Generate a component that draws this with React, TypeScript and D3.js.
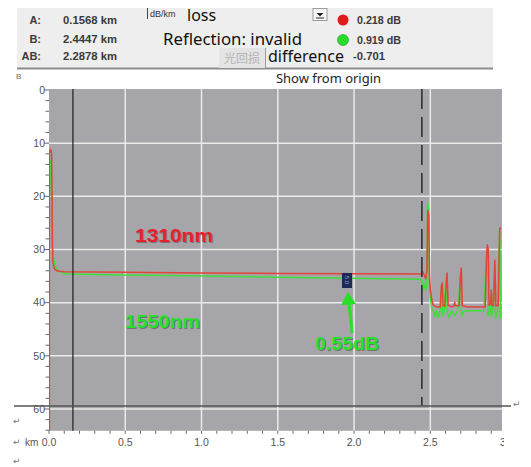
import React from "react";
import * as d3 from "d3";

// ---------- data ----------
const xTicks = [0, 0.5, 1.0, 1.5, 2.0, 2.5];
const xTickLabels = ["0.0", "0.5", "1.0", "1.5", "2.0", "2.5"];
const yTicks = [0, 10, 20, 30, 40, 50, 60];

const red1310Km = [0, 0.001, 0.012, 0.017, 0.02, 0.022, 0.026, 0.035, 0.05, 0.07, 0.1, 0.5, 1.0, 1.5, 2.0, 2.43, 2.44, 2.45, 2.46, 2.47, 2.478, 2.483, 2.49, 2.495, 2.5, 2.51, 2.52, 2.54, 2.565, 2.572, 2.578, 2.584, 2.595, 2.602, 2.61, 2.617, 2.64, 2.655, 2.66, 2.665, 2.69, 2.697, 2.703, 2.71, 2.75, 2.86, 2.868, 2.873, 2.88, 2.885, 2.895, 2.9, 2.905, 2.915, 2.923, 2.93, 2.945, 2.955, 2.965];
const red1310Db = [64.5, 11.5, 11.2, 12, 20, 29, 32.5, 33.6, 34.0, 34.1, 34.2, 34.3, 34.4, 34.5, 34.55, 34.6, 34.5, 34.2, 34.8, 35.5, 34.0, 22.6, 23.5, 35, 37.5, 39.5, 40.5, 40.8, 40.8, 37, 36.3, 40.5, 40.7, 37.5, 34.4, 40.5, 40.8, 40.6, 39.9, 40.6, 40.6, 35, 33.5, 40.6, 40.8, 40.8, 32, 29.1, 30, 40.5, 40.2, 37.6, 40.6, 40.5, 32, 40.6, 40.6, 26, 26];

const green1550Km = [0, 0.002, 0.008, 0.014, 0.02, 0.025, 0.04, 0.07, 0.12, 0.5, 1.0, 1.5, 2.0, 2.43, 2.445, 2.45, 2.46, 2.47, 2.478, 2.482, 2.488, 2.494, 2.5, 2.51, 2.52, 2.53, 2.54, 2.55, 2.565, 2.57, 2.575, 2.58, 2.59, 2.6, 2.605, 2.61, 2.62, 2.64, 2.66, 2.68, 2.695, 2.7, 2.705, 2.72, 2.75, 2.85, 2.865, 2.872, 2.878, 2.89, 2.895, 2.9, 2.91, 2.92, 2.928, 2.94, 2.95, 2.955, 2.96];
const green1550Db = [40, 20.5, 15, 13, 22, 31, 33.2, 34.2, 34.6, 34.8, 35.0, 35.2, 35.4, 35.6, 35.8, 37.5, 36.5, 37.8, 34, 21.3, 22, 37, 39, 41.2, 41.5, 42.6, 41.5, 42.8, 41.5, 38, 37.5, 42.5, 41.6, 36, 35, 41.7, 42.8, 41.5, 42.5, 41.5, 36, 34.5, 42.5, 41.6, 41.5, 41.5, 33, 30, 42.5, 41.6, 39, 42.6, 41.5, 33.5, 43, 41.6, 30, 27, 43];

const cursorA = 0.1568;
const cursorB = 2.4447;

const headerLabels = ["A:", "B:", "AB:"];
const headerValues = ["0.1568 km", "2.4447 km", "2.2878 km"];

export default function App() {
  const W = 531, H = 467;
  const x = d3.scaleLinear().domain([0, 2.97]).range([49, 502]);
  const y = d3.scaleLinear().domain([0, 60]).range([90, 409]);
  const plotTop = 89, plotBottom = y(64.1), plotLeft = x(0), plotRight = x(2.97);

  const line = d3.line<[number, number]>().x(d => x(d[0])).y(d => y(d[1]));
  const redPath = line(red1310Km.map((k, i) => [k, red1310Db[i]]) as [number, number][]) || "";
  const greenPath = line(green1550Km.map((k, i) => [k, green1550Db[i]]) as [number, number][]) || "";

  const minorY = d3.range(0, 65, 2);
  const minorX = d3.range(0, 30).map(i => i / 10);

  const sans = "'Liberation Sans', Arial, sans-serif";
  const noto = "'Noto Sans', 'Open Sans', sans-serif";

  const shadowText = (txt: string, tx: number, ty: number, fill: string, len: number) => (
    <g>
      <text x={tx + 1} y={ty + 1} fontFamily={sans} fontWeight="bold" fontSize={18} fill="#4a4a4a" opacity={0.55} textLength={len} lengthAdjust="spacingAndGlyphs">{txt}</text>
      <text x={tx} y={ty} fontFamily={sans} fontWeight="bold" fontSize={18} fill={fill} textLength={len} lengthAdjust="spacingAndGlyphs">{txt}</text>
    </g>
  );

  return (
    <svg width={W} height={H} style={{ position: "absolute", left: 0, top: 0, background: "#fff" }}>
      <defs>
        <clipPath id="plotClip">
          <rect x={plotLeft} y={plotTop} width={plotRight - plotLeft} height={plotBottom - plotTop} />
        </clipPath>
        <clipPath id="edgeClip">
          <rect x={0} y={0} width={504} height={H} />
        </clipPath>
      </defs>

      {/* header panel */}
      <rect x={17} y={8} width={476} height={60} fill="#eeeeee" />
      <line x1={17} x2={493} y1={68.5} y2={68.5} stroke="#8c8c8c" strokeWidth={2} />
      {headerLabels.map((l, i) => (
        <text key={l} x={41} y={24 + i * 19 - (i === 2 ? 2 : 0)} textAnchor="end" fontFamily={sans} fontWeight="bold" fontSize={11} fill="#3a3a3a">{l}</text>
      ))}
      {headerValues.map((v, i) => (
        <text key={v} x={63} y={24 + i * 19 - (i === 2 ? 2 : 0)} fontFamily={sans} fontWeight="bold" fontSize={11} fill="#3a3a3a" textLength={54} lengthAdjust="spacingAndGlyphs">{v}</text>
      ))}
      <line x1={147.5} x2={147.5} y1={8} y2={19} stroke="#444" strokeWidth={1} />
      <text x={150} y={17} fontFamily={sans} fontSize={9} fill="#333">dB/km</text>
      <text x={187} y={21} fontFamily={noto} fontSize={16} fill="#111">loss</text>
      <rect x={313} y={8.5} width={14} height={12} fill="#f6f6f6" stroke="#9a9a9a" strokeWidth={1} />
      <path d="M316.5,13 L323.5,13 L320,16.5 Z" fill="#222" />
      <line x1={316} x2={324} y1={18} y2={18} stroke="#222" strokeWidth={1} />
      <circle cx={343} cy={20} r={5.5} fill="#e21a1a" />
      <circle cx={343} cy={40} r={5.5} fill="#27dd27" stroke="#1a9a1a" strokeWidth={0.6} />
      <text x={357} y={24} fontFamily={sans} fontWeight="bold" fontSize={11} fill="#3a3a3a" textLength={44} lengthAdjust="spacingAndGlyphs">0.218 dB</text>
      <text x={357} y={44} fontFamily={sans} fontWeight="bold" fontSize={11} fill="#3a3a3a" textLength={44} lengthAdjust="spacingAndGlyphs">0.919 dB</text>
      <text x={163} y={45} fontFamily={noto} fontSize={16} fill="#111" textLength={139} lengthAdjust="spacingAndGlyphs">Reflection: invalid</text>
      <rect x={219} y={48} width={47} height={20} fill="#e4e4e4" />
      <line x1={265.5} x2={265.5} y1={48} y2={68} stroke="#9a9a9a" strokeWidth={1} />
      <text x={224} y={63} fontFamily="'Noto Sans CJK SC', sans-serif" fontSize={12} fill="#b4b4b4">光回损</text>
      <text x={268} y={62} fontFamily={noto} fontSize={16} fill="#111" textLength={76} lengthAdjust="spacingAndGlyphs">difference</text>
      <text x={353} y={60} fontFamily={sans} fontWeight="bold" fontSize={11} fill="#3a3a3a" textLength={32} lengthAdjust="spacingAndGlyphs">-0.701</text>
      <text x={276} y={83} fontFamily={noto} fontSize={13} fill="#222" textLength={105} lengthAdjust="spacingAndGlyphs">Show from origin</text>
      <text x={16} y={79} fontFamily={sans} fontSize={8} fill="#666">B</text>

      {/* plot area */}
      <rect x={plotLeft} y={plotTop} width={plotRight - plotLeft} height={plotBottom - plotTop} fill="#a6a5a9" />
      <g stroke="#f2f2f2" strokeWidth={1.5} opacity={0.9}>
        {xTicks.slice(1).map(t => (
          <line key={"gx" + t} x1={x(t)} x2={x(t)} y1={plotTop} y2={plotBottom} />
        ))}
        {yTicks.slice(1).map(t => (
          <line key={"gy" + t} x1={plotLeft} x2={plotRight} y1={y(t)} y2={y(t)} />
        ))}
      </g>

      {/* y axis */}
      <g stroke="#6a6a6a" strokeWidth={1}>
        {minorY.map(t => (
          <line key={"my" + t} x1={t % 10 === 0 ? 44 : 45.5} x2={49} y1={y(t)} y2={y(t)} />
        ))}
      </g>
      {yTicks.map(t => (
        <text key={"yl" + t} x={45} y={y(t)} dy="0.35em" textAnchor="end" fontFamily={sans} fontSize={10.5} fill="#555">{t}</text>
      ))}

      {/* x axis */}
      <g stroke="#6a6a6a" strokeWidth={1}>
        {minorX.map(t => (
          <line key={"mx" + t} x1={x(t)} x2={x(t)} y1={plotBottom} y2={plotBottom + 3} />
        ))}
      </g>
      {xTicks.map((t, i) => (
        <text key={"xl" + t} x={x(t)} y={446} textAnchor="middle" fontFamily={sans} fontSize={10.5} fill="#555">{xTickLabels[i]}</text>
      ))}
      <g clipPath="url(#edgeClip)">
        <text x={x(2.97) - 2} y={446} fontFamily={sans} fontSize={10.5} fill="#555">3</text>
      </g>
      <text x={25} y={446} fontFamily={sans} fontSize={10} fill="#555">km</text>
      {[424, 445, 464].map(yy => (
        <text key={"ret" + yy} x={13} y={yy} fontFamily="'DejaVu Sans', sans-serif" fontSize={9} fill="#777">↵</text>
      ))}
      <text x={513} y={407} fontFamily="'DejaVu Sans', sans-serif" fontSize={9} fill="#777">↵</text>

      {/* traces */}
      <g clipPath="url(#plotClip)">
        <path d={greenPath} fill="none" stroke="#3fdf3a" strokeWidth={1.5} strokeLinejoin="round" />
        <path d={redPath} fill="none" stroke="#e5433a" strokeWidth={1.5} strokeLinejoin="round" />
        <line x1={plotLeft + 0.5} x2={plotLeft + 0.5} y1={y(11.5)} y2={plotBottom} stroke="#e5433a" strokeWidth={1.2} />
      </g>

      {/* cursors */}
      <line x1={x(cursorA)} x2={x(cursorA)} y1={plotTop} y2={plotBottom} stroke="#1e1e1e" strokeWidth={1.2} />
      <line x1={x(cursorB)} x2={x(cursorB)} y1={plotTop} y2={406} stroke="#2a2a2a" strokeWidth={1.5} strokeDasharray="20,8" />
      <line x1={14} x2={511} y1={406} y2={406} stroke="#555" strokeWidth={1.5} />

      {/* annotations */}
      {shadowText("1310nm", 135, 242, "#e8202a", 78)}
      {shadowText("1550nm", 125, 328, "#27e027", 75)}
      {shadowText("0.55dB", 315, 350, "#27e027", 64)}
      <rect x={342} y={273} width={10} height={15} fill="#1e2a55" />
      <text x={347} y={280} transform="rotate(90 347 280)" textAnchor="middle" dy="0.35em" fontFamily={sans} fontSize={6} fill="#8fa6d8">5.0</text>
      <path d="M352,333 Q351,318 349,304" fill="none" stroke="#27e027" strokeWidth={3} />
      <path d="M341,305 L348,292 L356,304 Z" fill="#27e027" />
    </svg>
  );
}
